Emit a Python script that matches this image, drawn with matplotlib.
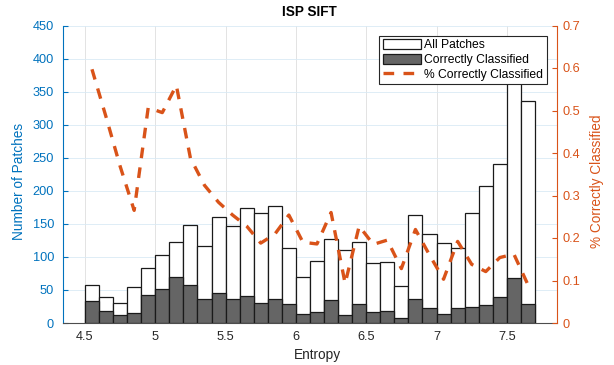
import numpy as np
import matplotlib
matplotlib.use('Agg')
from matplotlib import pyplot as plt

plt.rcParams['font.family'] = ['Liberation Sans', 'DejaVu Sans']

blue = '#0072BD'
orange = '#D95319'
dark = '#262626'

# histogram bins (width 0.1 in entropy)
bin_edges = np.linspace(4.5, 7.7, 33)

all_patches = [57, 39, 31, 54, 83, 103, 123, 148, 116, 160, 147, 174, 166, 177, 113, 70,
               94, 127, 111, 122, 91, 92, 56, 163, 135, 121, 113, 166, 207, 241, 423, 336]
correct = [34, 18, 12, 15, 43, 51, 69, 57, 37, 45, 37, 41, 31, 37, 28, 14,
           17, 35, 12, 29, 17, 18, 7, 37, 22, 14, 22, 24, 27, 39, 68, 29]
pct_correct = [0.597, 0.485, 0.369, 0.265, 0.507, 0.495, 0.559, 0.388, 0.324, 0.284, 0.254,
               0.228, 0.188, 0.209, 0.254, 0.19, 0.186, 0.26, 0.093, 0.228, 0.185, 0.195,
               0.128, 0.22, 0.16, 0.103, 0.192, 0.138, 0.121, 0.154, 0.162, 0.09]

left_ticks = [0, 50, 100, 150, 200, 250, 300, 350, 400, 450]
right_ticks = [0, 0.1, 0.2, 0.3, 0.4, 0.5, 0.6, 0.7]
x_ticks = [4.5, 5, 5.5, 6, 6.5, 7, 7.5]

fig = plt.figure(figsize=(6.14, 3.65), dpi=100)
ax = fig.add_axes([63/614, 1-323/365, (556.5-63)/614, (323-25.5)/365])
ax2 = ax.twinx()

widths = np.diff(bin_edges)
lefts = bin_edges[:-1]
centers = lefts + widths/2

b1 = ax.bar(lefts, all_patches, width=widths, align='edge', color='white',
            edgecolor='#1a1a1a', linewidth=0.9, label='All Patches', zorder=2)
b2 = ax.bar(lefts, correct, width=widths, align='edge', color='#656565',
            edgecolor='#1a1a1a', linewidth=0.9, label='Correctly Classified', zorder=3)

ln, = ax2.plot(centers, pct_correct, color=orange, linewidth=2.4, linestyle=(0, (3.2, 2.8)),
               label='% Correctly Classified', zorder=4)

# axes limits and ticks
ax.set_xlim(4.344, 7.853)
ax.set_ylim(0, 450)
ax2.set_ylim(0, 0.7)
ax.set_xticks(x_ticks, ['4.5', '5', '5.5', '6', '6.5', '7', '7.5'])
ax.set_yticks(left_ticks)
ax2.set_yticks(right_ticks, ['0', '0.1', '0.2', '0.3', '0.4', '0.5', '0.6', '0.7'])

ax.tick_params(axis='y', direction='in', length=3.5, width=0.8, colors=blue,
               labelsize=9.2, pad=6.5)
ax.tick_params(axis='x', direction='in', length=3, width=0.8, colors=dark,
               labelsize=9.2, pad=5.5)
ax2.tick_params(axis='y', direction='in', length=3.5, width=0.8, colors=orange,
                labelsize=9.2, pad=4.5)

# grid
ax.set_axisbelow(True)
ax.xaxis.grid(True, color='#dedede', linewidth=0.6)
ax.yaxis.grid(True, color='#d9eaf5', linewidth=0.6)

for s in ['top', 'right']:
    ax.spines[s].set_visible(False)
for s in ['top', 'left', 'bottom']:
    ax2.spines[s].set_visible(False)
ax.spines['left'].set_color(blue)
ax.spines['bottom'].set_color('#4d4d4d')
ax2.spines['right'].set_color(orange)

ax.set_xlabel('Entropy', fontsize=9.8, color=dark)
ax.set_ylabel('Number of Patches', fontsize=9.8, color=blue)
ax2.set_ylabel('% Correctly Classified', fontsize=9.8, color=orange)
ax.xaxis.set_label_coords(0.515, -0.085)
ax.yaxis.set_label_coords(-0.075, 0.476)
ax2.yaxis.set_label_coords(1.068, 0.476)
ax.set_title('ISP SIFT', fontsize=9.8, fontweight='bold', pad=7)

leg = ax2.legend([b1, b2, ln], ['All Patches', 'Correctly Classified', '% Correctly Classified'],
                 loc='upper right', bbox_to_anchor=(0.98, 0.966), borderaxespad=0,
                 fontsize=8.7, handlelength=3.15, handleheight=0.85, handletextpad=0.25,
                 labelspacing=0.22, borderpad=0.3, fancybox=False, framealpha=1,
                 edgecolor=dark)
leg.get_frame().set_linewidth(0.8)

plt.savefig('out.png', dpi=100)
